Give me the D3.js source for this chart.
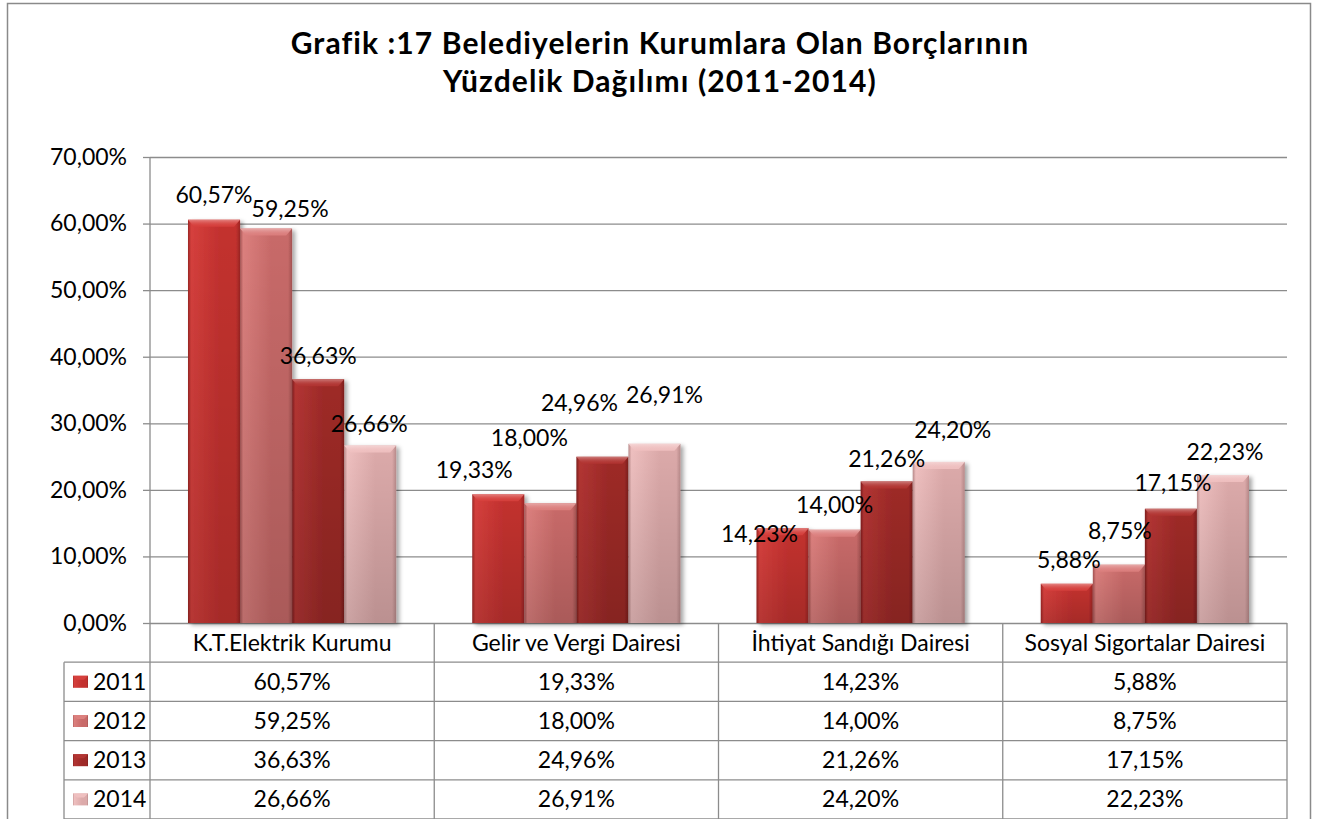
<!DOCTYPE html>
<html>
<head>
<meta charset="utf-8">
<title>Grafik 17</title>
<script src="https://d3js.org/d3.v7.min.js"></script>
<style>
  body { margin: 0; background: #fff; }
  svg { display: block; font-family: Lato, "Open Sans", sans-serif; }
</style>
</head>
<body>
<div id="chart"></div>
<script>
// veriler
const categories = ["K.T.Elektrik Kurumu", "Gelir ve Vergi Dairesi", "İhtiyat Sandığı Dairesi", "Sosyal Sigortalar Dairesi"];
const years = ["2011", "2012", "2013", "2014"];
const values2011 = [60.57, 19.33, 14.23, 5.88];
const values2012 = [59.25, 18.00, 14.00, 8.75];
const values2013 = [36.63, 24.96, 21.26, 17.15];
const values2014 = [26.66, 26.91, 24.20, 22.23];
const yTicks = [0, 10, 20, 30, 40, 50, 60, 70];
const titleLines = ["Grafik :17 Belediyelerin Kurumlara Olan Borçlarının", "Yüzdelik Dağılımı (2011-2014)"];

// elle kaydırılmış etiketler (dx, dy) - grup x yıl
const labelNudge = [
  [[0, -2], [24, 3], [0, 0], [-1, 1]],
  [[-24, -1], [-21, -42], [-23, -31], [10, -26]],
  [[-23, 29], [0, -2], [0, 0], [14, -9]],
  [[2, -1], [1, -11], [2, -3], [2, 0]]
];

const series = [values2011, values2012, values2013, values2014];
const colors = {
  "2011": ["#d6403d", "#c3312f", "#9c2624"],
  "2012": ["#dc807e", "#c86a69", "#a45352"],
  "2013": ["#b33533", "#9e2a28", "#7c1d1c"],
  "2014": ["#efc0c0", "#dcaaaa", "#b88a8a"]
};

const W = 1318, H = 819;
const plot = { left: 150, right: 1287, top: 157, bottom: 623 };
const tableLeft = 64, rowH = 39.2;
const fs = 23;

const fmt = v => d3.format(".2f")(v).replace(".", ",") + "%";

const svg = d3.select("#chart").append("svg")
  .attr("width", W).attr("height", H);

const defs = svg.append("defs");
years.forEach(yr => {
  const c = colors[yr];
  const g = defs.append("linearGradient").attr("id", "g" + yr)
    .attr("x1", 0).attr("x2", 1).attr("y1", 0).attr("y2", 0);
  g.append("stop").attr("offset", "0%").attr("stop-color", c[2]);
  g.append("stop").attr("offset", "6%").attr("stop-color", c[0]);
  g.append("stop").attr("offset", "60%").attr("stop-color", c[1]);
  g.append("stop").attr("offset", "92%").attr("stop-color", c[1]);
  g.append("stop").attr("offset", "100%").attr("stop-color", c[2]);
  const t = defs.append("linearGradient").attr("id", "t" + yr)
    .attr("x1", 0).attr("x2", 0).attr("y1", 0).attr("y2", 1);
  t.append("stop").attr("offset", "0%").attr("stop-color", "#fff").attr("stop-opacity", 0.35);
  t.append("stop").attr("offset", "100%").attr("stop-color", c[0]).attr("stop-opacity", 0);
});
const shade = defs.append("linearGradient").attr("id", "shade")
  .attr("x1", 0).attr("x2", 0).attr("y1", 0).attr("y2", 1);
shade.append("stop").attr("offset", "0%").attr("stop-color", "#000").attr("stop-opacity", 0);
shade.append("stop").attr("offset", "100%").attr("stop-color", "#000").attr("stop-opacity", 0.15);
const f = defs.append("filter").attr("id", "shadow").attr("x", "-10%").attr("y", "-10%").attr("width", "130%").attr("height", "130%");
f.append("feDropShadow").attr("dx", 3).attr("dy", 2).attr("stdDeviation", 2)
  .attr("flood-color", "#000").attr("flood-opacity", 0.35);

// dış çerçeve
svg.append("rect")
  .attr("x", 7.5).attr("y", 3.5).attr("width", 1303).attr("height", 830)
  .attr("fill", "#fff").attr("stroke", "#8a8a8a").attr("stroke-width", 1.5);

// başlık
svg.append("g").selectAll("text")
  .data(titleLines)
  .join("text")
  .attr("x", 660)
  .attr("y", (d, i) => 54 + i * 38)
  .attr("text-anchor", "middle")
  .attr("font-weight", "bold")
  .attr("font-size", 30)
  .attr("letter-spacing", 1.1)
  .attr("fill", "#000")
  .text(d => d);

const x0 = d3.scaleBand().domain(categories).range([plot.left, plot.right]);
const x1 = d3.scaleBand().domain(years).range([0, x0.bandwidth()]).paddingOuter(0.73);
const y = d3.scaleLinear().domain([0, 70]).range([plot.bottom, plot.top]);

// ızgara
svg.append("g")
  .attr("transform", `translate(${plot.left},0)`)
  .call(d3.axisLeft(y).tickValues(yTicks).tickSize(-(plot.right - plot.left)).tickFormat(""))
  .call(g => g.select(".domain").remove())
  .call(g => g.selectAll("line").attr("stroke", "#8c8c8c").attr("stroke-width", 1.3));

// y ekseni
svg.append("g")
  .attr("transform", `translate(${plot.left},0)`)
  .call(d3.axisLeft(y).tickValues(yTicks).tickSize(7).tickPadding(16).tickFormat(fmt))
  .call(g => g.select(".domain").attr("stroke", "#8c8c8c").attr("stroke-width", 1.3)
    .attr("d", `M0,${plot.top}V${plot.bottom + rowH * 5}`))
  .call(g => g.selectAll("line").attr("stroke", "#8c8c8c").attr("stroke-width", 1.3))
  .call(g => g.selectAll("text").attr("font-size", fs).attr("fill", "#000").attr("font-family", "Lato"));

// çubuklar
const flat = [];
categories.forEach((cat, ci) => {
  years.forEach((yr, si) => {
    flat.push({ cat, ci, yr, si, v: series[si][ci] });
  });
});

const bars = svg.append("g").selectAll("g.bar")
  .data(flat)
  .join("g")
  .attr("class", "bar")
  .attr("transform", d => `translate(${x0(d.cat) + x1(d.yr)},${y(d.v)})`);

bars.append("rect")
  .attr("width", x1.bandwidth())
  .attr("height", d => y(0) - y(d.v))
  .attr("fill", d => `url(#g${d.yr})`)
  .attr("filter", "url(#shadow)");
bars.append("rect")
  .attr("width", x1.bandwidth())
  .attr("height", d => y(0) - y(d.v))
  .attr("fill", "url(#shade)");
bars.append("path")
  .attr("d", () => {
    const w = x1.bandwidth();
    return `M0,0H${w}L${w - 6},7H6Z`;
  })
  .attr("fill", d => colors[d.yr][0])
  .attr("opacity", 0.9);
bars.append("path")
  .attr("d", () => {
    const w = x1.bandwidth();
    return `M0,0H${w}L${w - 6},7H6Z`;
  })
  .attr("fill", d => `url(#t${d.yr})`);

// veri etiketleri
svg.append("g").selectAll("text")
  .data(flat)
  .join("text")
  .attr("x", d => x0(d.cat) + x1(d.yr) + x1.bandwidth() / 2 + labelNudge[d.ci][d.si][0])
  .attr("y", d => y(d.v) - 23 + labelNudge[d.ci][d.si][1])
  .attr("dy", "0.35em")
  .attr("text-anchor", "middle")
  .attr("font-size", fs)
  .attr("fill", "#000")
  .text(d => fmt(d.v));

// tablo
const tbl = svg.append("g").attr("stroke", "#8c8c8c").attr("stroke-width", 1.3);
const tTop = plot.bottom, tBottom = plot.bottom + rowH * 5;
d3.range(1, 6).forEach(i => {
  tbl.append("line")
    .attr("x1", tableLeft).attr("x2", plot.right)
    .attr("y1", tTop + rowH * i).attr("y2", tTop + rowH * i);
});
tbl.append("line").attr("x1", tableLeft).attr("x2", tableLeft)
  .attr("y1", tTop + rowH).attr("y2", tBottom);
categories.forEach(c => {
  tbl.append("line")
    .attr("x1", x0(c) + x0.bandwidth()).attr("x2", x0(c) + x0.bandwidth())
    .attr("y1", tTop).attr("y2", tBottom);
});

// kategori adları
svg.append("g").selectAll("text")
  .data(categories)
  .join("text")
  .attr("x", d => x0(d) + x0.bandwidth() / 2)
  .attr("y", tTop + rowH / 2)
  .attr("dy", "0.35em")
  .attr("text-anchor", "middle")
  .attr("font-size", fs)
  .text(d => d);

// satırlar
years.forEach((yr, si) => {
  const cy = tTop + rowH * (si + 1) + rowH / 2;
  const key = svg.append("g").attr("transform", `translate(73,${cy - 6})`);
  key.append("rect").attr("width", 15).attr("height", 12).attr("fill", `url(#g${yr})`);
  key.append("path").attr("d", "M0,0H15L11,4H4Z").attr("fill", colors[yr][0]);
  svg.append("text")
    .attr("x", 93).attr("y", cy).attr("dy", "0.35em")
    .attr("font-size", fs)
    .text(yr);
  svg.append("g").selectAll("text")
    .data(series[si])
    .join("text")
    .attr("x", (d, i) => x0(categories[i]) + x0.bandwidth() / 2)
    .attr("y", cy)
    .attr("dy", "0.35em")
    .attr("text-anchor", "middle")
    .attr("font-size", fs)
    .text(d => fmt(d));
});
</script>
</body>
</html>
